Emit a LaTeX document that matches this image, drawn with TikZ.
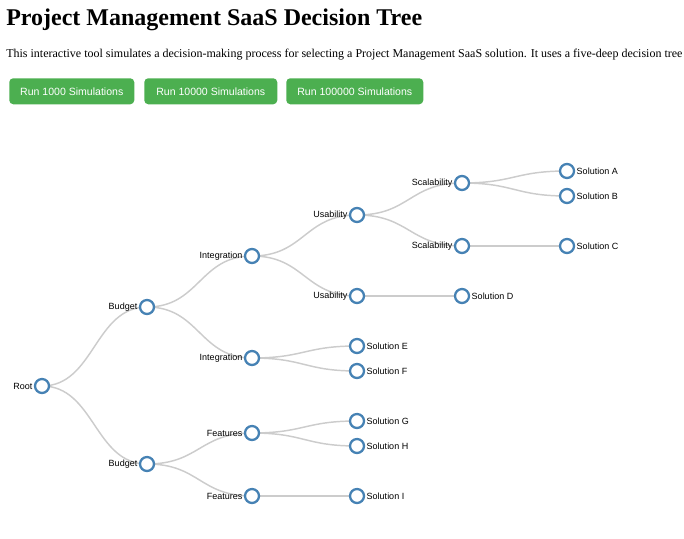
\documentclass[tikz,border=0pt]{standalone}
\usepackage{fontspec}
\setmainfont{Liberation Serif}
\newfontfamily\labelfont{Liberation Sans}
\usetikzlibrary{backgrounds}
\definecolor{nodeblue}{HTML}{4682B4}
\definecolor{linkgray}{HTML}{CCCCCC}
\definecolor{btngreen}{HTML}{4CAF50}
\tikzset{
  tnode/.style={circle, draw=nodeblue, fill=white, line width=1.7pt, minimum size=10.5pt, inner sep=0pt},
  link/.style={draw=linkgray, line width=1.1pt},
  lbl/.style={font=\labelfont\fontsize{6.75}{8}\selectfont, inner sep=0pt},
  btn/.style={fill=btngreen, rounded corners=3pt, text=white, font=\labelfont\fontsize{7.9}{9}\selectfont, inner sep=0pt, anchor=north west}
}

\begin{document}
\begin{tikzpicture}[x=0.75pt, y=-0.75pt]
\useasboundingbox (0,0) rectangle (684,538);
\def\h{52.5}
\def\d{7.1pt}

% heading and text
\node[anchor=base west, inner sep=0pt, font=\bfseries\fontsize{18}{22}\selectfont] (title) at (6,26) {Project Management SaaS Decision Tree};
\node[anchor=base west, inner sep=0pt, font=\fontsize{9}{11}\selectfont] (intro) at (6,58) {This interactive tool simulates a decision-making process for selecting a Project Management SaaS solution. It uses a five-deep decision tree};

% buttons
\node[btn, minimum width=93.75pt, minimum height=19.5pt] (run1) at (9,78) {Run 1000 Simulations};
\node[btn, minimum width=99.75pt, minimum height=19.5pt] (run2) at (144,78) {Run 10000 Simulations};
\node[btn, minimum width=102.75pt, minimum height=19.5pt] (run3) at (286,78) {Run 100000 Simulations};

% tree
\node[tnode] (root) at (42,386) {};
\node[tnode] (bud1) at (147,307) {};
\node[tnode] (bud2) at (147,464) {};
\node[tnode] (int1) at (252,256) {};
\node[tnode] (int2) at (252,358) {};
\node[tnode] (fea1) at (252,433) {};
\node[tnode] (fea2) at (252,496) {};
\node[tnode] (usa1) at (357,215) {};
\node[tnode] (usa2) at (357,296) {};
\node[tnode] (solE) at (357,346) {};
\node[tnode] (solF) at (357,371) {};
\node[tnode] (solG) at (357,421) {};
\node[tnode] (solH) at (357,446) {};
\node[tnode] (solI) at (357,496) {};
\node[tnode] (sca1) at (462,183) {};
\node[tnode] (sca2) at (462,246) {};
\node[tnode] (solD) at (462,296) {};
\node[tnode] (solA) at (567,171) {};
\node[tnode] (solB) at (567,196) {};
\node[tnode] (solC) at (567,246) {};

\begin{scope}[on background layer]
\foreach \a/\b in {root/bud1, root/bud2, bud1/int1, bud1/int2, bud2/fea1, bud2/fea2,
  int1/usa1, int1/usa2, int2/solE, int2/solF, fea1/solG, fea1/solH, fea2/solI,
  usa1/sca1, usa1/sca2, usa2/solD, sca1/solA, sca1/solB, sca2/solC}
  \draw[link] (\a.center) .. controls +(\h,0) and +(-\h,0) .. (\b.center);
\end{scope}

% labels
\foreach \n/\t in {root/Root, bud1/Budget, bud2/Budget, int1/Integration, int2/Integration,
  fea1/Features, fea2/Features, usa1/Usability, usa2/Usability, sca1/Scalability, sca2/Scalability}
  \node[lbl, anchor=east] (\n-l) at ([xshift=-\d]\n.center) {\t};
\foreach \n/\t in {solA/Solution A, solB/Solution B, solC/Solution C, solD/Solution D,
  solE/Solution E, solF/Solution F, solG/Solution G, solH/Solution H, solI/Solution I}
  \node[lbl, anchor=west] (\n-l) at ([xshift=\d]\n.center) {\t};

\end{tikzpicture}
\end{document}
